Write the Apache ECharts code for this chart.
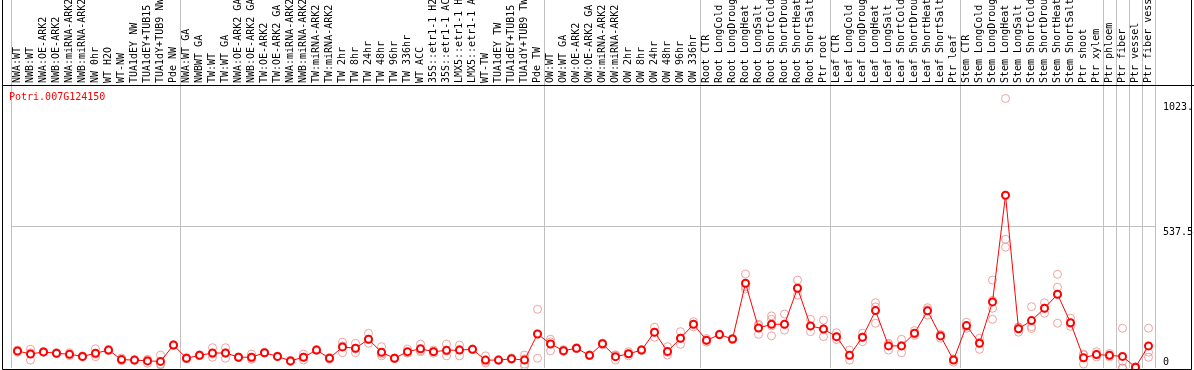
<!DOCTYPE html>
<html><head><meta charset="utf-8">
<script src="https://cdn.jsdelivr.net/npm/echarts@6/dist/echarts.min.js"></script>
<style>html,body{margin:0;padding:0;background:#fff}#c{width:1194px;height:370px}</style>
</head><body><div id="c"></div>
<script>
const chartTitle = 'Potri.007G124150';
const categories = [
 'NWA:WT','NWB:WT','NWA:OE-ARK2','NWB:OE-ARK2','NWA:miRNA-ARK2','NWB:miRNA-ARK2','NW 0hr','WT H2O','WT-NW','TUA1dEY NW','TUA1dEY+TUB15 NW','TUA1dY+TUB9 NW','Pde NW',
 'NWA:WT GA','NWBWT GA','TW:WT','TW:WT GA','NWA:OE-ARK2 GA','NWB:OE-ARK2 GA','TW:OE-ARK2','TW:OE-ARK2 GA','NWA:miRNA-ARK2 GA','NWB:miRNA-ARK2 GA','TW:miRNA-ARK2','TW:miRNA-ARK2 GA',
 'TW 2hr','TW 8hr','TW 24hr','TW 48hr','TW 96hr','TW 336hr','WT ACC','35S::etr1-1 H2O','35S::etr1-1 ACC','LMX5::etr1-1 H2O','LMX5::etr1-1 ACC','WT-TW','TUA1dEY TW','TUA1dEY+TUB15 TW','TUA1dY+TUB9 TW','Pde TW',
 'OW:WT','OW:WT GA','OW:OE-ARK2','OW:OE-ARK2 GA','OW:miRNA-ARK2','OW:miRNA-ARK2 GA','OW 2hr','OW 8hr','OW 24hr','OW 48hr','OW 96hr','OW 336hr',
 'Root CTR','Root LongCold','Root LongDrought','Root LongHeat','Root LongSalt','Root ShortCold','Root ShortDrought','Root ShortHeat','Root ShortSalt','Ptr root',
 'Leaf CTR','Leaf LongCold','Leaf LongDrought','Leaf LongHeat','Leaf LongSalt','Leaf ShortCold','Leaf ShortDrought','Leaf ShortHeat','Leaf ShortSalt','Ptr leaf',
 'Stem CTR','Stem LongCold','Stem LongDrought','Stem LongHeat','Stem LongSalt','Stem ShortCold','Stem ShortDrought','Stem ShortHeat','Stem ShortSalt','Ptr shoot','Ptr xylem',
 'Ptr phloem','Ptr fiber','Ptr vessel','Ptr fiber vessel'
];
const means = [
 65,53,61,56,52,44,56,68,32,30,27,25,87,
 37,48,57,57,41,41,58,44,27,41,68,37,
 80,75,109,60,37,62,73,62,67,68,71,30,30,35,30,129,
 91,66,75,48,92,43,54,68,136,63,113,166,
 105,127,110,322,152,166,166,303,160,148,
 119,48,117,218,84,84,132,217,122,30,
 161,94,251,656,149,180,227,280,172,39,51,
 48,44,3,84
];
const replicates = [
 [64,60,68],[71,58,30],[61,60,62],[56,55,58],[58,52,47],[44,42,46],[73,52,43],[68,66,70],[38,30,28],[30,31,29],[33,30,18],[49,15,12],[87,88,86],
 [37,35,39],[48,47,50],[77,53,41],[77,57,37],[41,40,42],[53,37,33],[58,57,59],[44,43,45],[27,25,29],[53,41,30],[68,67,70],[37,40,34],
 [98,84,58],[94,72,58],[132,109,94],[81,53,46],[37,36,38],[72,58,56],[91,66,62],[68,62,56],[91,64,46],[87,70,46],[71,72,70],[46,25,19],[30,29,31],[35,38,33],[49,35,15,8],[223,129,37],
 [109,99,65],[66,70,62],[75,74,77],[48,47,50],[92,88,95],[50,48,30],[62,54,46],[68,67,70],[155,136,117],[81,60,49],[138,113,90],[176,166,156],
 [112,105,98],[127,126,129],[112,110,108],[357,309,300],[166,162,128],[198,185,122,160],[205,166,144],[334,303,277],[185,160,138],[182,148,119],
 [134,119,108],[68,48,30],[132,117,100],[248,232,170],[94,90,68],[109,85,58],[142,130,124],[229,221,201],[125,128,113],[34,34,22],
 [174,158,151],[113,98,71],[334,257,227,185],[1023.8,489,459],[156,155,136],[233,157,150],[248,227,208],[356,307,280,170],[189,170,158],[53,49,15],[62,51,42],
 [55,48,42],[151,25,0,0],[3,2,4],[151,60,41]
];
const groupStarts = [0,13,41,53,63,73,84,85,86,87];
const yTickValues = [0, 537.5, 1023.8];
const yTickLabels = ['0', '537.5', '1023.'];
const yMax = 1075;

const mono = 'DejaVu Sans Mono';
const grey = '#c0c0c0';
const repData = [];
replicates.forEach((arr, i) => arr.forEach(v => repData.push([i, v])));
const splitFn = (idx) => groupStarts.indexOf(idx) >= 0;

const chart = echarts.init(document.getElementById('c'), null, {renderer: 'canvas'});
chart.setOption({
  animation: false,
  backgroundColor: '#fff',
  title: {text: chartTitle, left: 9, top: 92, padding: 0,
    textStyle: {color: '#ff0000', fontFamily: mono, fontSize: 10, fontWeight: 'normal'}},
  grid: [
    {left: 11, right: 39, top: 0, height: 85, containLabel: false, outerBoundsMode: 'none'},
    {left: 11, right: 39, top: 85, bottom: 2, containLabel: false, outerBoundsMode: 'none'}
  ],
  xAxis: [
    {type: 'category', gridIndex: 0, data: categories, position: 'bottom', boundaryGap: true,
     axisLine: {show: false}, axisTick: {show: false},
     axisLabel: {inside: true, rotate: 90, interval: 0, margin: 2, fontFamily: mono, fontSize: 10, color: '#000', hideOverlap: false},
     splitLine: {show: true, interval: splitFn, lineStyle: {color: grey, width: 1}}},
    {type: 'category', gridIndex: 1, data: categories, position: 'bottom', boundaryGap: true,
     axisLine: {show: false}, axisTick: {show: false}, axisLabel: {show: false},
     splitLine: {show: true, interval: splitFn, lineStyle: {color: grey, width: 1}}}
  ],
  yAxis: [
    {type: 'value', gridIndex: 0, show: false},
    {type: 'value', gridIndex: 1, position: 'right', min: 0, max: yMax, interval: 537.5,
     axisLine: {show: false}, axisTick: {show: false},
     splitLine: {show: true, showMinLine: false, showMaxLine: false, lineStyle: {color: grey, width: 1}},
     axisLabel: {customValues: yTickValues, margin: 8, color: '#000', fontFamily: mono, fontSize: 10,
       formatter: (v) => {
         const k = yTickValues.indexOf(v);
         const t = k >= 0 ? yTickLabels[k] : '';
         const st = v === 0 ? 'b' : (k === yTickValues.length - 1 ? 'u' : 't');
         return '{' + st + '|' + t + '}';
       },
       rich: {
         b: {padding: [0,0,12,0], fontFamily: mono, fontSize: 10},
         t: {padding: [12,0,0,0], fontFamily: mono, fontSize: 10},
         u: {padding: [17,0,0,0], fontFamily: mono, fontSize: 10}
       }}}
  ],
  series: [
    {type: 'scatter', xAxisIndex: 1, yAxisIndex: 1, data: repData, symbol: 'circle', symbolSize: 8,
     itemStyle: {color: 'rgba(0,0,0,0)', borderColor: '#e88c8c', borderWidth: 1}, z: 2, silent: true},
    {type: 'line', xAxisIndex: 1, yAxisIndex: 1, data: means, symbol: 'circle', symbolSize: 7, showAllSymbol: true,
     lineStyle: {color: '#ff0000', width: 1}, itemStyle: {color: '#ffffff', borderColor: '#ff0000', borderWidth: 2}, z: 3, silent: true}
  ],
  graphic: [
    {type: 'rect', shape: {x: 2.5, y: -5, width: 1189, height: 374.5}, style: {fill: null, stroke: '#000', lineWidth: 1}, z: 100, silent: true},
    {type: 'line', shape: {x1: 2, y1: 85.5, x2: 1194, y2: 85.5}, style: {stroke: '#000', lineWidth: 1}, z: 100, silent: true}
  ]
});
</script></body></html>
